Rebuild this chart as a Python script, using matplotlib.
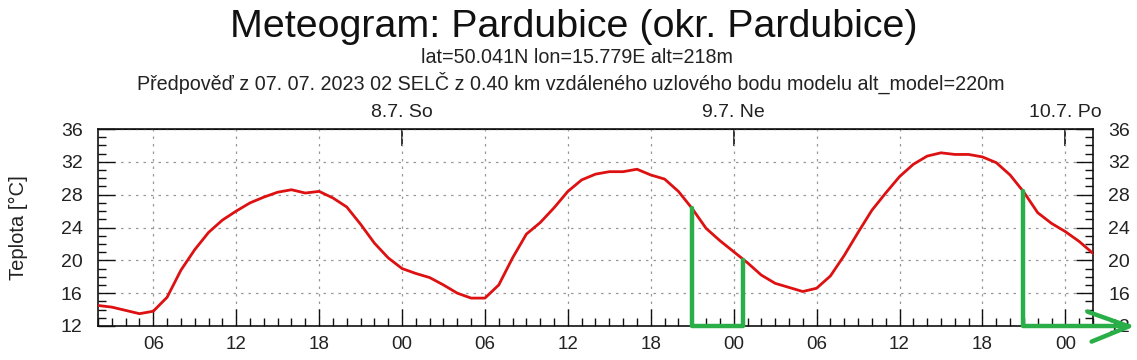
import matplotlib
matplotlib.use("Agg")
import matplotlib.pyplot as plt
from matplotlib.ticker import MultipleLocator, FuncFormatter, FixedLocator

plt.rcParams['font.family'] = ['Liberation Sans', 'DejaVu Sans']

# hours counted from 7.7. 00:00 (SELČ)
hours = list(range(2, 75))
temps = [14.5, 14.3, 13.9, 13.5, 13.8, 15.5, 18.8, 21.3, 23.4, 24.9,
         26.0, 27.0, 27.7, 28.3, 28.6, 28.2, 28.4, 27.6, 26.5, 24.4,
         22.1, 20.3, 19.0, 18.4, 17.9, 17.0, 16.0, 15.4, 15.4, 17.0,
         20.3, 23.2, 24.6, 26.4, 28.4, 29.8, 30.5, 30.8, 30.8, 31.1,
         30.4, 29.9, 28.4, 26.3, 23.9, 22.4, 21.05, 19.7, 18.2, 17.2,
         16.7, 16.2, 16.6, 18.1, 20.6, 23.4, 26.1, 28.2, 30.2, 31.7,
         32.7, 33.1, 32.9, 32.9, 32.6, 31.9, 30.4, 28.3, 25.8, 24.5,
         23.5, 22.3, 20.85]

day_pos = [24, 48, 72]
day_labels = ["8.7. So", "9.7. Ne", "10.7. Po"]
y_ticks = [12, 16, 20, 24, 28, 32, 36]

# hand-drawn green annotation overlay
annot1_x = [45.0, 45.0, 48.7, 48.7]
annot1_y = [26.4, 11.95, 11.95, 20.0]
annot2_x = [68.9, 68.9, 76.6]
annot2_y = [28.4, 11.95, 11.95]
arrow_x = [73.6, 76.6, 73.9]
arrow_y = [13.75, 11.95, 10.1]

title = "Meteogram: Pardubice (okr. Pardubice)"
sub1 = "lat=50.041N lon=15.779E alt=218m"
sub2 = "Předpověď z 07. 07. 2023 02 SELČ z 0.40 km vzdáleného uzlového bodu modelu alt_model=220m"

W, H = 1137, 360
fig = plt.figure(figsize=(W / 100, H / 100), dpi=100)
ax = fig.add_axes([98 / W, 1 - 326 / H, (1093 - 98) / W, (326 - 129) / H])

ax.plot(hours, temps, color='#dd1111', lw=2.0, zorder=3)

ax.set_xlim(2, 74)
ax.set_ylim(12, 36)

ax.xaxis.set_major_locator(MultipleLocator(6))
ax.xaxis.set_minor_locator(MultipleLocator(1))
ax.xaxis.set_major_formatter(FuncFormatter(lambda v, p: "%02d" % (int(round(v)) % 24)))
ax.yaxis.set_major_locator(FixedLocator(y_ticks))
ax.yaxis.set_minor_locator(MultipleLocator(1))

ax.tick_params(axis='both', which='both', direction='in', colors='#111111',
               labelcolor='#222222')
ax.tick_params(axis='x', which='major', length=12, width=1, pad=7, top=False, labelsize=13.5)
ax.tick_params(axis='x', which='minor', length=6, width=1, top=False)
ax.tick_params(axis='y', which='major', length=12, width=1, pad=11, right=True,
               labelright=True, labelsize=14)
ax.tick_params(axis='y', which='minor', length=6, width=1, right=True)

ax.grid(True, which='major', color='#999999', linestyle=(0, (2, 4)), lw=0.9)
for s in ax.spines.values():
    s.set_color('#111111')
    s.set_linewidth(1.2)

top = ax.secondary_xaxis('top')
top.set_xticks(day_pos)
top.set_xticklabels(day_labels)
top.tick_params(direction='in', length=12, width=1.2, pad=6, labelsize=14,
                colors='#111111', labelcolor='#222222')

ax.set_ylabel("Teplota [°C]", fontsize=14.5, color='#222222', labelpad=24)

green = '#2aaf48'
ax.plot(annot1_x, annot1_y, color=green, lw=3.2, clip_on=False, zorder=5,
        solid_joinstyle='round', solid_capstyle='round')
ax.plot(annot2_x, annot2_y, color=green, lw=3.2, clip_on=False, zorder=5,
        solid_joinstyle='round', solid_capstyle='round')
ax.plot(arrow_x, arrow_y, color=green, lw=3.2, clip_on=False, zorder=5,
        solid_joinstyle='round', solid_capstyle='round')

fig.text(574 / W, 1 - 37.3 / H, title, ha='center', va='baseline', fontsize=28.4, color='#111111')
fig.text(577 / W, 1 - 63.3 / H, sub1, ha='center', va='baseline', fontsize=14.2, color='#222222')
fig.text(570.5 / W, 1 - 89.3 / H, sub2, ha='center', va='baseline', fontsize=14.2, color='#222222')

fig.savefig("out.png", dpi=100)
